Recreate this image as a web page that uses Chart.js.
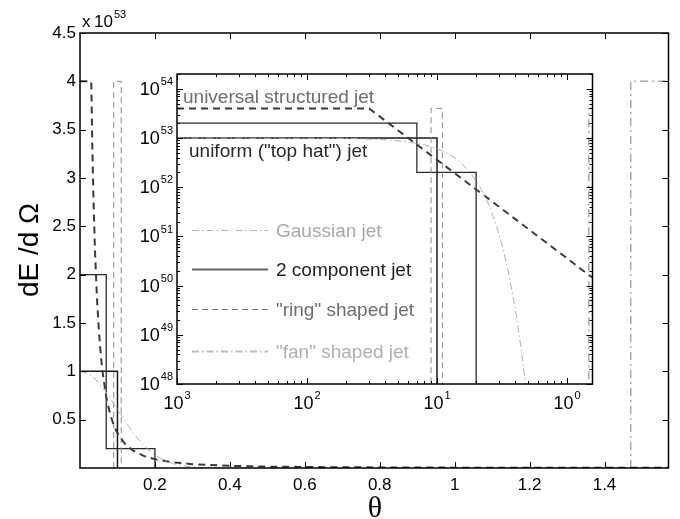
<!DOCTYPE html>
<html>
<head>
<meta charset="utf-8">
<script src="https://cdn.jsdelivr.net/npm/chart.js@4.4.1/dist/chart.umd.min.js"></script>
<style>
  body { margin: 0; background: #fff; }
  #wrap { position: relative; width: 680px; height: 519px; }
  #inset { position: absolute; left: 0; top: 0; }
</style>
</head>
<body>
<div id="wrap">
  <canvas id="main" width="680" height="519"></canvas>
  <canvas id="inset" width="680" height="519"></canvas>
</div>
<script>
// energy per solid angle, in units of 10^53 erg; 1e-6 stands for "zero"
const uniformTheta = [0.001, 0.1, 0.1];
const uniformE = [1, 1, 1e-6];

const twoCompTheta = [0.001, 0.07, 0.07, 0.2, 0.2];
const twoCompE = [2, 2, 0.2, 0.2, 1e-6];

const ringTheta = [0.09, 0.09, 0.11, 0.11];
const ringE = [1e-6, 4, 4, 1e-6];

const fanTheta = [1.47, 1.47, 1.5708];
const fanE = [1e-6, 4, 4];

const universalTheta = [0.001, 0.03, 0.033, 0.036, 0.04, 0.045, 0.05, 0.055, 0.06, 0.07, 0.08, 0.09,
  0.1, 0.12, 0.14, 0.17, 0.2, 0.25, 0.3, 0.4, 0.5, 0.7, 1.0, 1.3, 1.5708];
const universalE = [4, 4, 3.31, 2.78, 2.25, 1.78, 1.44, 1.19, 1.0, 0.735, 0.563, 0.444,
  0.36, 0.25, 0.184, 0.125, 0.09, 0.058, 0.04, 0.0225, 0.0144, 0.0073, 0.0036, 0.0021, 0.00146];

const gaussTheta = [0.001, 0.02, 0.04, 0.06, 0.08, 0.1, 0.12, 0.14, 0.16, 0.18, 0.2, 0.22,
  0.25, 0.28, 0.3, 0.33, 0.36, 0.4, 0.44, 0.48];
const gaussE = [1, 0.98, 0.923, 0.835, 0.726, 0.607, 0.487, 0.375, 0.278, 0.198, 0.135, 0.089,
  0.044, 0.0198, 0.0111, 0.0043, 0.00153, 0.000335, 0.000062, 0.00001];

// axis ticks
const mainXTicks = [0.2, 0.4, 0.6, 0.8, 1, 1.2, 1.4];
const mainYTicks = [0.5, 1, 1.5, 2, 2.5, 3, 3.5, 4, 4.5];
const insetXExp = [-3, -2, -1, 0];
const insetXLabels = ['3', '2', '1', '0'];
const insetYExp = [48, 49, 50, 51, 52, 53, 54];

const SANS = '"Liberation Sans", Arial, Helvetica, sans-serif';
const UNIT = 1e53;

function toXY(xs, ys, k) {
  return xs.map((x, i) => ({ x: x, y: ys[i] * k }));
}

function makeSets(k) {
  return [
    { data: toXY(gaussTheta, gaussE, k), borderColor: '#b0b0b0', borderWidth: 1, borderDash: [7, 3, 1.5, 3] },
    { data: toXY(universalTheta, universalE, k), borderColor: '#3a3a3a', borderWidth: 2, borderDash: [7, 5] },
    { data: toXY(ringTheta, ringE, k), borderColor: '#8a8a8a', borderWidth: 1, borderDash: [6, 4] },
    { data: toXY(fanTheta, fanE, k), borderColor: '#a8a8a8', borderWidth: 1.5, borderDash: [8, 4, 2, 4] },
    { data: toXY(twoCompTheta, twoCompE, k), borderColor: '#2a2a2a', borderWidth: 1.3 },
    { data: toXY(uniformTheta, uniformE, k), borderColor: '#1a1a1a', borderWidth: 1.5 }
  ];
}

// draws "10" with a raised exponent; (x, y) = anchor, align 'right' or 'center'
function drawPow(ctx, exp, x, y, align, big, small) {
  ctx.font = big + 'px ' + SANS;
  const wb = ctx.measureText('10').width;
  ctx.font = small + 'px ' + SANS;
  const we = ctx.measureText(exp).width;
  let x0 = align === 'right' ? x - wb - we - 1 : x - (wb + we + 1) / 2;
  ctx.textAlign = 'left';
  ctx.textBaseline = 'alphabetic';
  ctx.font = big + 'px ' + SANS;
  ctx.fillText('10', x0, y);
  ctx.font = small + 'px ' + SANS;
  ctx.fillText(exp, x0 + wb + 1, y - big * 0.55);
}

// -------- main (linear) chart -------- //
const mainFrame = {
  id: 'mainFrame',
  afterDraw(chart) {
    const { ctx, chartArea: a } = chart;
    const x = chart.scales.x, y = chart.scales.y;
    ctx.save();
    ctx.strokeStyle = '#000';
    ctx.lineWidth = 1.5;
    ctx.strokeRect(a.left, a.top, a.right - a.left, a.bottom - a.top);
    ctx.lineWidth = 1;
    ctx.beginPath();
    mainXTicks.forEach(v => {
      const px = Math.round(x.getPixelForValue(v)) + 0.5;
      ctx.moveTo(px, a.bottom); ctx.lineTo(px, a.bottom - 6);
      ctx.moveTo(px, a.top); ctx.lineTo(px, a.top + 6);
    });
    mainYTicks.forEach(v => {
      const py = Math.round(y.getPixelForValue(v)) + 0.5;
      ctx.moveTo(a.left, py); ctx.lineTo(a.left + 6, py);
      ctx.moveTo(a.right, py); ctx.lineTo(a.right - 6, py);
    });
    ctx.stroke();

    ctx.fillStyle = '#000';
    // exponent note
    ctx.textAlign = 'left';
    ctx.textBaseline = 'alphabetic';
    ctx.font = '17px ' + SANS;
    ctx.fillText('x', 82, 27);
    drawPow(ctx, '53', 94, 27, 'left', 17, 11);

    // y title
    ctx.save();
    ctx.translate(38, 250);
    ctx.rotate(-Math.PI / 2);
    ctx.textAlign = 'center';
    ctx.font = '28px ' + SANS;
    ctx.fillText('dE /d \u03A9', 0, 0);
    ctx.restore();

    // x title
    ctx.textAlign = 'center';
    ctx.font = '30px "Liberation Serif", "DejaVu Serif", serif';
    ctx.fillText('\u03B8', 375, 517);
    ctx.restore();
  }
};

// drawPow with 'left' align
const _drawPow = drawPow;
drawPow = function (ctx, exp, x, y, align, big, small) {
  if (align !== 'left') return _drawPow(ctx, exp, x, y, align, big, small);
  ctx.font = big + 'px ' + SANS;
  const wb = ctx.measureText('10').width;
  ctx.textAlign = 'left';
  ctx.textBaseline = 'alphabetic';
  ctx.fillText('10', x, y);
  ctx.font = small + 'px ' + SANS;
  ctx.fillText(exp, x + wb + 1, y - big * 0.55);
};

new Chart(document.getElementById('main'), {
  type: 'line',
  data: { datasets: makeSets(1) },
  options: {
    responsive: false,
    animation: false,
    events: [],
    layout: { padding: { top: 33, right: 11.5, left: 0, bottom: 0 } },
    elements: { point: { radius: 0 }, line: { tension: 0, fill: false } },
    plugins: { legend: { display: false }, tooltip: { enabled: false } },
    scales: {
      x: {
        type: 'linear', min: 0, max: Math.PI / 2,
        grid: { display: false, drawTicks: false },
        border: { display: false },
        afterBuildTicks: s => { s.ticks = mainXTicks.map(v => ({ value: v })); },
        afterFit: s => { s.height = 51; },
        ticks: {
          autoSkip: false, maxRotation: 0, padding: 7, color: '#000',
          font: { family: SANS, size: 17 },
          callback: v => String(v)
        }
      },
      y: {
        type: 'linear', min: 0, max: 4.5,
        grid: { display: false, drawTicks: false },
        border: { display: false },
        afterBuildTicks: s => { s.ticks = mainYTicks.map(v => ({ value: v })); },
        afterFit: s => { s.width = 80; },
        ticks: {
          autoSkip: false, padding: 4, color: '#000',
          font: { family: SANS, size: 17 },
          callback: v => String(v)
        }
      }
    }
  },
  plugins: [mainFrame]
});

// -------- inset (log-log) chart -------- //
const insetFrame = {
  id: 'insetFrame',
  beforeDatasetsDraw(chart) {
    const { ctx, chartArea: a } = chart;
    ctx.save();
    ctx.fillStyle = '#fff';
    ctx.fillRect(a.left, a.top, a.right - a.left, a.bottom - a.top);
    ctx.restore();
  },
  afterDraw(chart) {
    const { ctx, chartArea: a } = chart;
    const x = chart.scales.x, y = chart.scales.y;
    ctx.save();
    ctx.strokeStyle = '#000';
    ctx.lineWidth = 1.5;
    ctx.strokeRect(a.left, a.top, a.right - a.left, a.bottom - a.top);

    ctx.lineWidth = 1;
    ctx.beginPath();
    // x ticks (major + minor)
    for (let e = -3; e <= 0; e++) {
      for (let m = 1; m <= 9; m++) {
        const v = m * Math.pow(10, e);
        if (v > x.max) break;
        const len = m === 1 ? 6 : 3;
        const px = Math.round(x.getPixelForValue(v)) + 0.5;
        ctx.moveTo(px, a.bottom); ctx.lineTo(px, a.bottom - len);
        ctx.moveTo(px, a.top); ctx.lineTo(px, a.top + len);
      }
    }
    // y ticks (major + minor)
    for (let e = 48; e <= 54; e++) {
      for (let m = 1; m <= 9; m++) {
        const v = m * Math.pow(10, e);
        if (v > y.max) break;
        const len = m === 1 ? 6 : 3;
        const py = Math.round(y.getPixelForValue(v)) + 0.5;
        ctx.moveTo(a.left, py); ctx.lineTo(a.left + len, py);
        ctx.moveTo(a.right, py); ctx.lineTo(a.right - len, py);
      }
    }
    ctx.stroke();

    // tick labels
    ctx.fillStyle = '#000';
    insetYExp.forEach(e => {
      const py = y.getPixelForValue(Math.pow(10, e));
      drawPow(ctx, String(e), a.left - 4, py + 6, 'right', 18, 11);
    });
    insetXExp.forEach((e, i) => {
      const px = x.getPixelForValue(Math.pow(10, e));
      drawPow(ctx, insetXLabels[i], px, a.bottom + 25, 'center', 18, 11);
    });

    // curve annotations
    ctx.textAlign = 'left';
    ctx.textBaseline = 'alphabetic';
    ctx.font = '19px ' + SANS;
    ctx.fillStyle = '#6e6e6e';
    ctx.fillText('universal structured jet', 183, 103);
    ctx.fillStyle = '#2a2a2a';
    ctx.fillText('uniform ("top hat") jet', 189, 157);

    // legend
    const rows = [
      { y: 230, text: 'Gaussian jet', text_c: '#a8a8a8', c: '#b4b4b4', w: 1, dash: [7, 3, 1.5, 3] },
      { y: 269, text: '2 component jet', text_c: '#1e1e1e', c: '#666', w: 2, dash: [] },
      { y: 309, text: '"ring" shaped jet', text_c: '#6e6e6e', c: '#777', w: 1, dash: [6, 4] },
      { y: 351, text: '"fan" shaped jet', text_c: '#b0b0b0', c: '#bdbdbd', w: 2, dash: [7, 3, 1.5, 3] }
    ];
    rows.forEach(r => {
      ctx.beginPath();
      ctx.strokeStyle = r.c;
      ctx.lineWidth = r.w;
      ctx.setLineDash(r.dash);
      ctx.moveTo(192, r.y + 0.5);
      ctx.lineTo(268, r.y + 0.5);
      ctx.stroke();
      ctx.setLineDash([]);
      ctx.fillStyle = r.text_c;
      ctx.fillText(r.text, 276, r.y + 7);
    });
    ctx.restore();
  }
};

new Chart(document.getElementById('inset'), {
  type: 'line',
  data: { datasets: makeSets(UNIT) },
  options: {
    responsive: false,
    animation: false,
    events: [],
    layout: { padding: { left: 177, top: 74, right: 87.5, bottom: 135 } },
    elements: { point: { radius: 0 }, line: { tension: 0, fill: false } },
    plugins: { legend: { display: false }, tooltip: { enabled: false } },
    scales: {
      x: { type: 'logarithmic', min: 1e-3, max: Math.PI / 2, display: false },
      y: { type: 'logarithmic', min: 1e48, max: 2e54, display: false }
    }
  },
  plugins: [insetFrame]
});
</script>
</body>
</html>
